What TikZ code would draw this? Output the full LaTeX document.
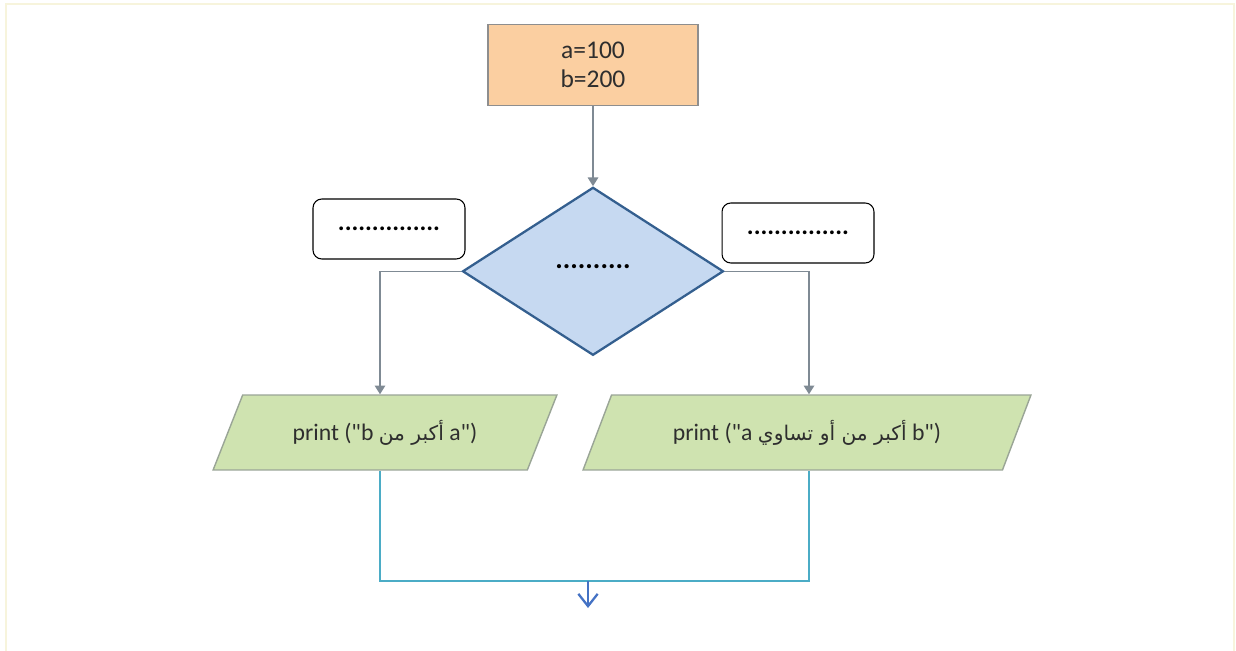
\documentclass[tikz,border=0pt]{standalone}
\usepackage{fontspec}
\setmainfont{Carlito}[Ligatures=TeXOff]
\newfontfamily\arabicfont[Script=Arabic]{DejaVu Sans}
\TeXXeTstate=1
\usetikzlibrary{arrows.meta,positioning,shapes.geometric}
\definecolor{peach}{HTML}{FBCFA1}
\definecolor{boxgray}{HTML}{8E8E8E}
\definecolor{condblue}{HTML}{C6D9F1}
\definecolor{condedge}{HTML}{345F8F}
\definecolor{outgreen}{HTML}{CFE3B0}
\definecolor{outedge}{HTML}{9AA596}
\definecolor{linkgray}{HTML}{7F8A94}
\definecolor{mergeblue}{HTML}{4BACC6}
\definecolor{exitblue}{HTML}{4472C4}
\definecolor{framecol}{HTML}{F7F4DC}
\definecolor{txtgray}{HTML}{2E2E2E}

\begin{document}
\begin{tikzpicture}[
    x=0.02cm, y=-0.02cm,
    every node/.style={font=\fontsize{13.5}{13}\selectfont, text=txtgray},
    initbox/.style={draw=boxgray, fill=peach, line width=0.8pt,
                    font=\fontsize{14.5}{16.5}\selectfont,
                    minimum width=4.2cm, minimum height=1.62cm, align=center},
    decision/.style={diamond, draw=condedge, fill=condblue, line width=1.3pt,
                     minimum width=5.22cm, minimum height=3.36cm, inner sep=0pt,
                     font=\fontsize{16}{16}\bfseries, text=black},
    lblbox/.style={draw=black, fill=white, rounded corners=5pt, line width=0.6pt,
                   minimum width=3.04cm, minimum height=1.2cm,
                   font=\fontsize{14.5}{16}\bfseries, text=black},
    outbox/.style={trapezium, trapezium left angle=61, trapezium right angle=119,
                   trapezium stretches=true, draw=outedge, fill=outgreen,
                   line width=0.8pt, minimum height=1.5cm},
    arr/.style={-{Triangle[length=5pt,width=6pt]}, line width=0.9pt, linkgray},
    mrg/.style={line width=1pt, mergeblue},
    outarr/.style={-{Straight Barb[length=7pt,width=11pt,line width=1.3pt]},
                   line width=1.3pt, exitblue},
    node distance=1.6cm
  ]
    \useasboundingbox (0,0) rectangle (1236,651);
    % === Frame ===
    \draw[framecol, line width=1.2pt] (6,651) -- (6,4) -- (1234,4) -- (1234,651);

    % === Start and test ===
    \node[initbox] (init) at (593,65) {a=100\\b=200};
    \node[decision, below=of init] (cond) {\raisebox{5pt}{..........}};
    \draw[arr] (init) -- (cond);

    % Branch labels
    \node[lblbox] (leftlbl) at (389,229) {...............};
    \node[lblbox] (rightlbl) at (798,233) {...............};

    % === Output ===
    \coordinate (lcol) at (380,620);
    \coordinate (rcol) at (809,620);
    \node[outbox, minimum width=6.88cm] (outl) at (385,432.5)
      {print ("b {\arabicfont\fontsize{11.5}{13}\selectfont\beginR أكبر من\endR} a")};
    \node[outbox, minimum width=8.98cm] (outr) at (807,432.5)
      {print ("a {\arabicfont\fontsize{11.5}{13}\selectfont\beginR أكبر من أو تساوي\endR} b")};

    \draw[arr] (cond.west) -| (outl.north -| lcol);
    \draw[arr] (cond.east) -| (outr.north -| rcol);

    % === Merge ===
    \coordinate (join) at (588,581);
    \coordinate (exit) at (588,608);
    \draw[mrg] (outl.south -| lcol) |- (join) -| (outr.south -| rcol);
    \draw[outarr] (join) -- (exit);
\end{tikzpicture}
\end{document}
